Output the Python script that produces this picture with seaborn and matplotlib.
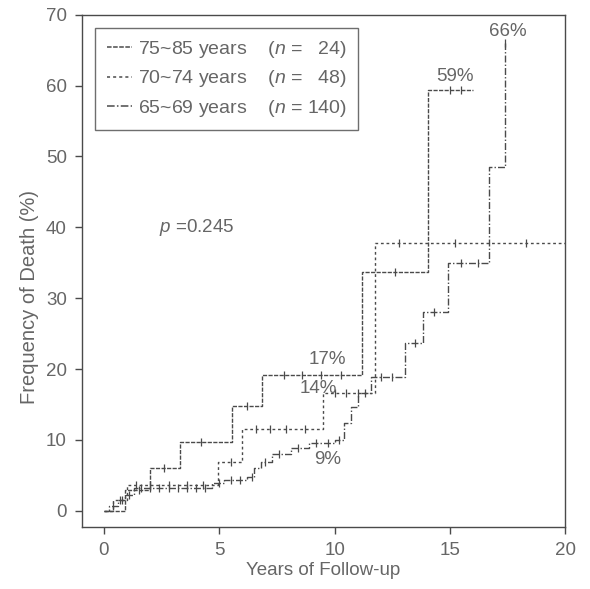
import numpy as np
import pandas as pd
import matplotlib
matplotlib.use("Agg")
import matplotlib.pyplot as plt
import seaborn as sns
from matplotlib.lines import Line2D

# step curves (years, % dead)
t_old = [0, 0.9, 2.0, 3.3, 5.55, 6.85, 11.2, 14.05, 16.0]
y_old = [0, 3.0, 6.0, 9.7, 14.8, 19.2, 33.7, 59.4, 59.4]
c_old = [1.5, 2.6, 4.2, 6.2, 7.8, 8.6, 9.4, 10.3, 12.6, 15.0, 15.5]

t_mid = [0, 0.4, 1.0, 4.95, 6.0, 9.5, 11.76, 20.0]
y_mid = [0, 1.5, 3.7, 6.9, 11.5, 16.6, 37.8, 37.8]
c_mid = [0.7, 1.4, 2.0, 2.8, 3.6, 4.3, 5.5, 6.6, 7.2, 7.9, 8.7, 10.0, 10.5, 11.0,
         12.8, 15.2, 18.3]

t_young = [0, 0.2, 0.6, 0.9, 1.3, 4.7, 5.2, 6.2, 6.5, 6.8, 7.3, 8.1, 8.9, 10.0,
           10.4, 10.7, 11.0, 11.6, 13.06, 13.84, 14.9, 16.7, 17.4]
y_young = [0, 0.7, 1.5, 2.3, 3.2, 3.9, 4.3, 4.8, 6.0, 6.9, 8.0, 8.9, 9.6, 10.0,
           12.4, 14.7, 16.6, 18.9, 23.7, 28.0, 35.0, 48.5, 66.0]
c_young = [0.4, 0.8, 1.1, 1.6, 2.0, 2.4, 2.8, 3.2, 3.6, 4.0, 4.4, 5.0, 5.5, 5.9,
           6.4, 7.0, 7.6, 8.4, 9.2, 9.7, 10.2, 11.3, 12.0, 12.5, 13.5, 14.3,
           15.5, 16.2, 17.4]

labels = ["75~85 years    ($n$ =   24)", "70~74 years    ($n$ =   48)",
          "65~69 years    ($n$ = 140)"]

groups = [(t_old, y_old, c_old, (0, (3, 1))),
          (t_mid, y_mid, c_mid, (0, (2, 2))),
          (t_young, y_young, c_young, (0, (5, 1.5, 1, 1.5)))]

col = "#4a4a4a"
txt = "#666666"

sns.set_style("ticks")
plt.rcParams['font.family'] = ['Liberation Sans', 'DejaVu Sans']
plt.rcParams['mathtext.fontset'] = 'custom'
plt.rcParams['mathtext.it'] = 'Liberation Sans:italic'

fig = plt.figure(figsize=(5.9, 5.89), dpi=100)
ax = fig.add_axes([0.139, 0.105, 0.819, 0.870])

handles = []
for (t, y, c, ls), lab in zip(groups, labels):
    df = pd.DataFrame({"time": t, "pct": y})
    sns.lineplot(data=df, x="time", y="pct", drawstyle="steps-post",
                 estimator=None, sort=False, color=col, lw=1.0,
                 linestyle=ls, ax=ax)
    idx = np.searchsorted(t, c, side="right") - 1
    ax.plot(c, np.array(y)[idx], ls="none", marker="|", ms=6, mew=0.9,
            color=col)
    handles.append(Line2D([], [], color=col, lw=1.1, linestyle=ls, label=lab))

leg = ax.legend(handles=handles, loc="upper left", bbox_to_anchor=(0.027, 0.975),
                borderaxespad=0, fontsize=14, frameon=True, fancybox=False,
                handlelength=1.3, handletextpad=0.3, labelcolor=txt,
                borderpad=0.6, labelspacing=0.42)
leg.get_frame().set_edgecolor(col)
leg.get_frame().set_linewidth(1.0)

fs = 13.5
ax.text(15.2, 61.3, "59%", ha="center", va="center", fontsize=fs, color=txt)
ax.text(17.5, 67.6, "66%", ha="center", va="center", fontsize=fs, color=txt)
ax.text(9.7, 21.3, "17%", ha="center", va="center", fontsize=fs, color=txt)
ax.text(9.3, 17.3, "14%", ha="center", va="center", fontsize=fs, color=txt)
ax.text(9.7, 7.3, "9%", ha="center", va="center", fontsize=fs, color=txt)
ax.text(2.4, 40, "$p$ =0.245", ha="left", va="center", fontsize=fs, color=txt)

ax.set_xlim(-0.95, 20)
ax.set_ylim(-2.3, 70)
ax.set_xticks([0, 5, 10, 15, 20])
ax.set_yticks(range(0, 71, 10))
ax.set_xlabel("Years of Follow-up", fontsize=13.5, color=txt, labelpad=2)
ax.set_ylabel("Frequency of Death (%)", fontsize=14.5, color=txt)
ax.yaxis.set_label_coords(-0.09, 0.45)
ax.tick_params(axis="both", labelsize=13.5, labelcolor=txt, color=col,
               length=5, width=1.0, pad=6)
for s in ax.spines.values():
    s.set_visible(True)
    s.set_color(col)
    s.set_linewidth(1.0)

fig.savefig("out.png", dpi=100)
